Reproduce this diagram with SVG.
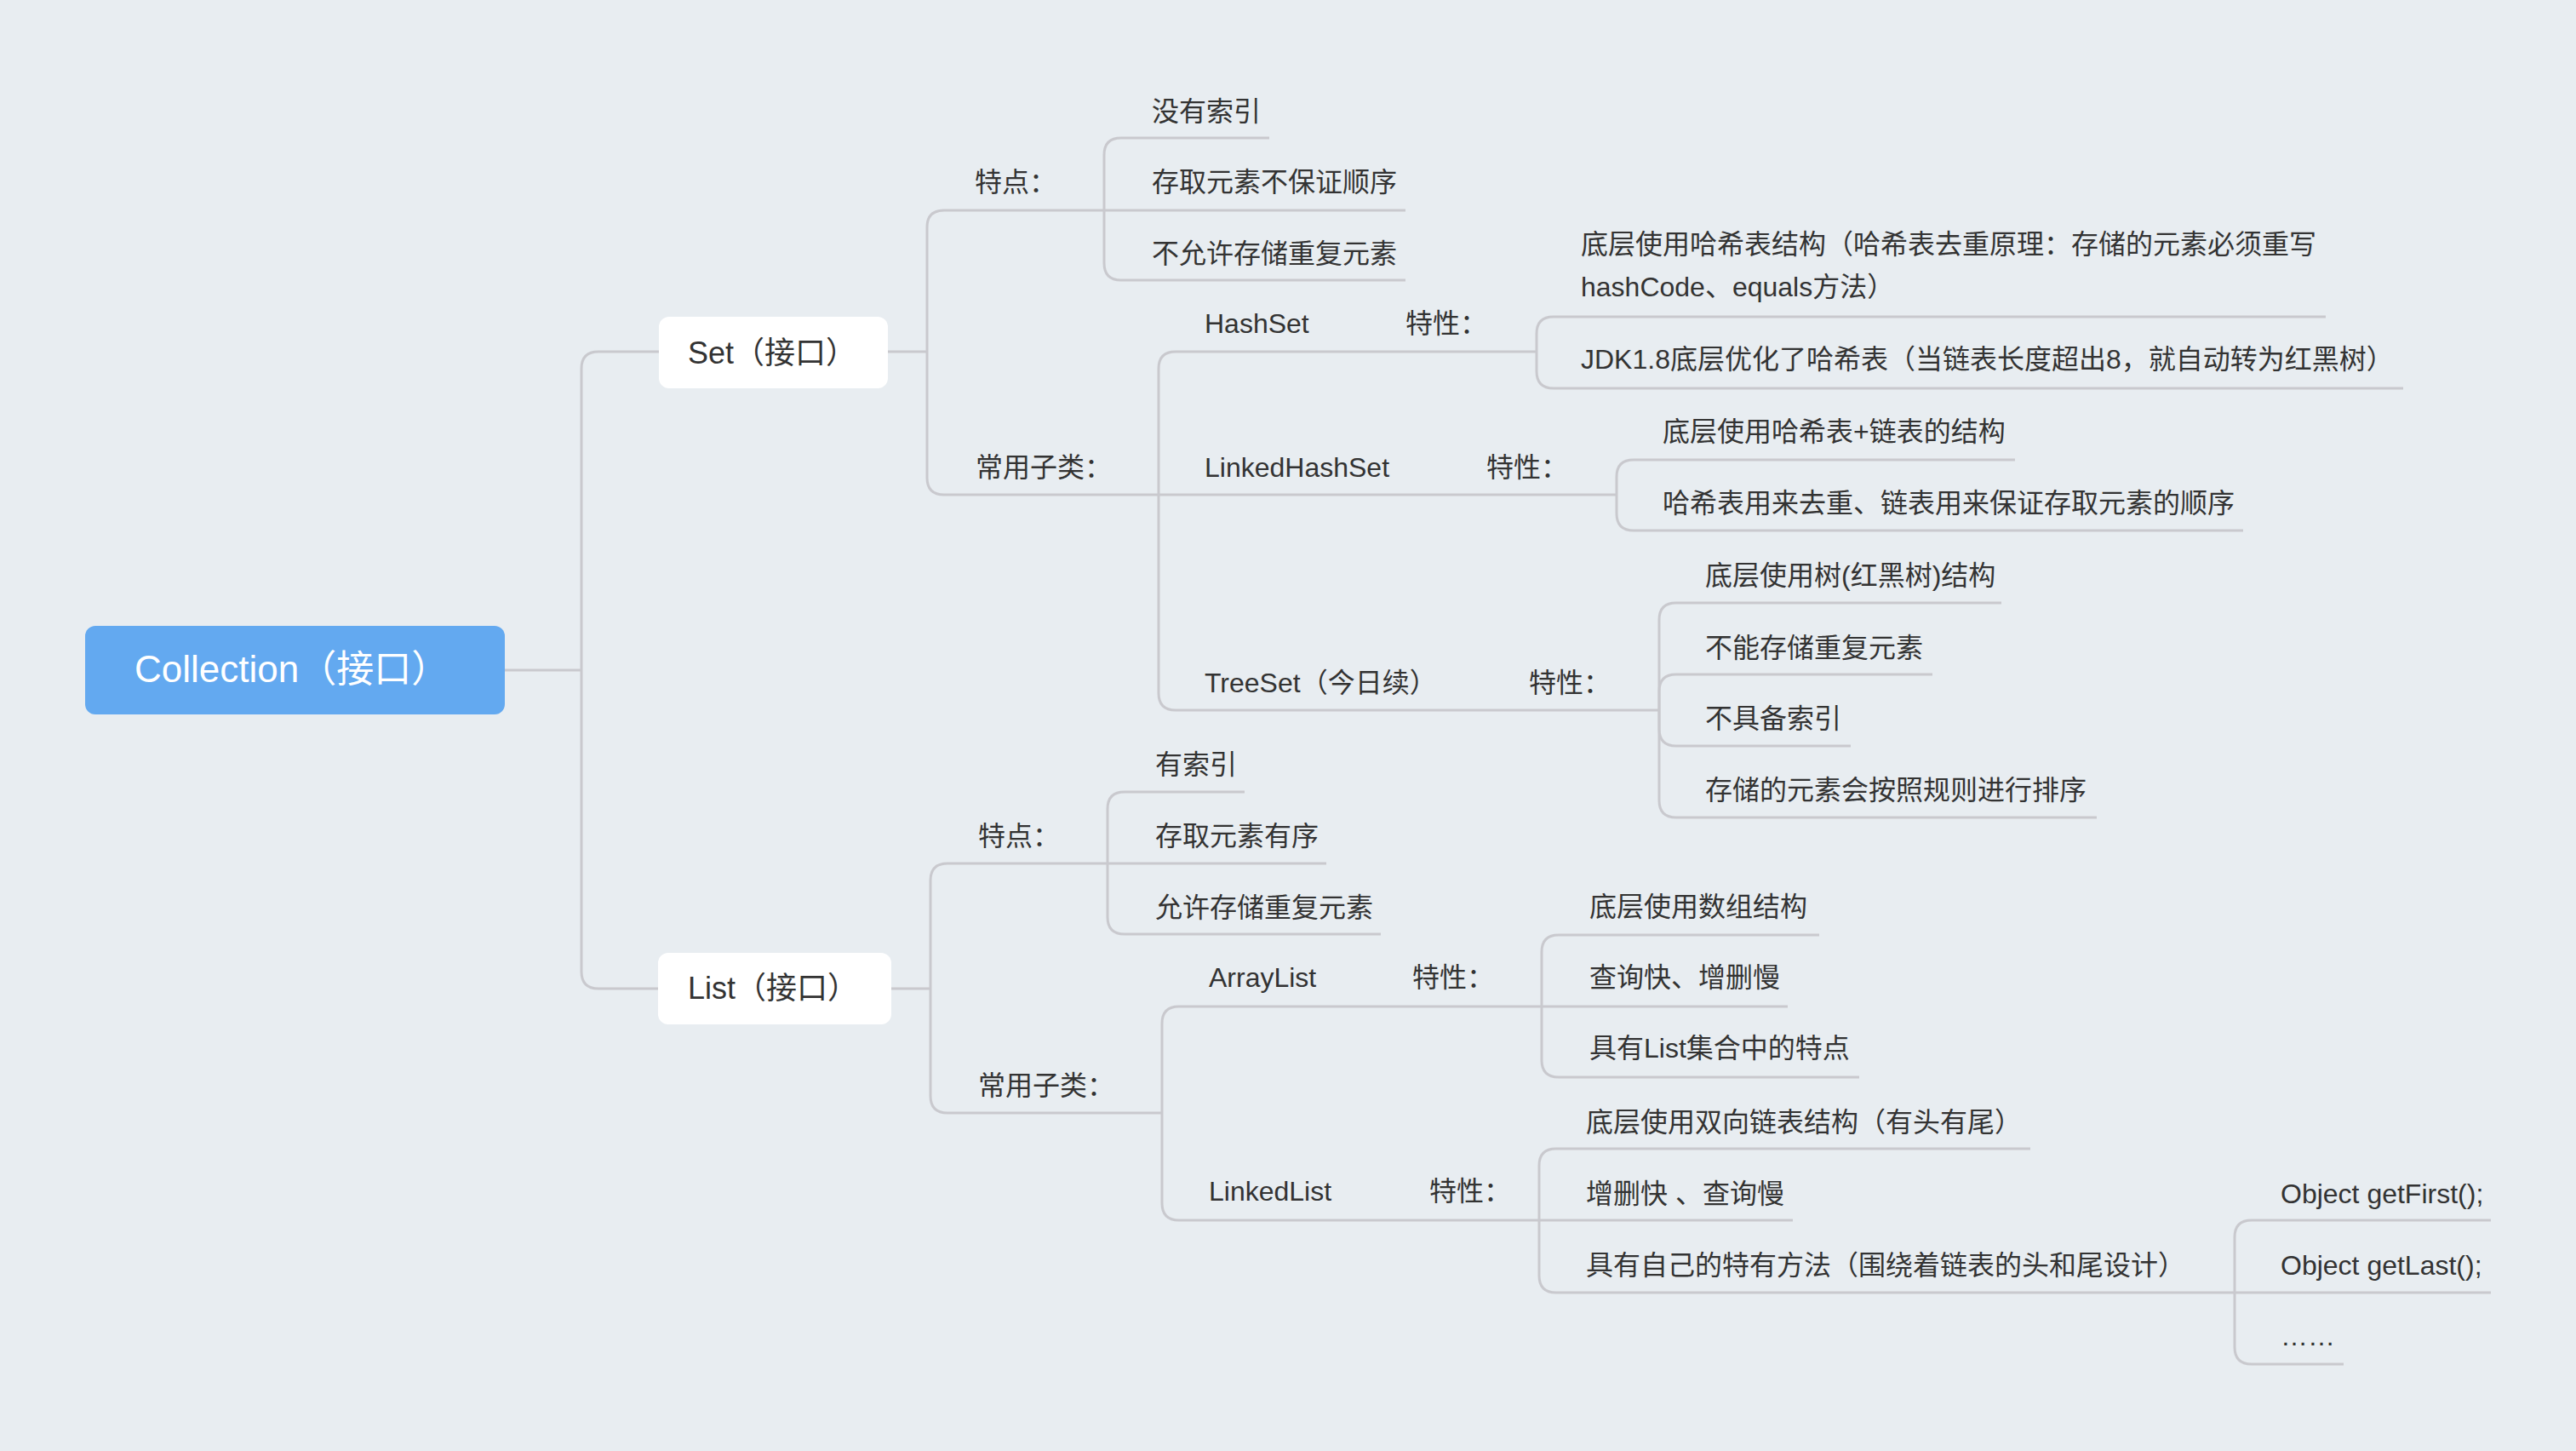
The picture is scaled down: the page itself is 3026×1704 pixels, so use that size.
<svg xmlns="http://www.w3.org/2000/svg" width="3026" height="1704" viewBox="0 0 3026 1704">
<style>
.t{font-family:"Liberation Sans","Noto Sans CJK SC",sans-serif;font-size:32px;fill:#333333}
.n{font-family:"Liberation Sans","Noto Sans CJK SC",sans-serif;font-size:36px;fill:#333333}
.r{font-family:"Liberation Sans","Noto Sans CJK SC",sans-serif;font-size:44px;fill:#ffffff}
.c{fill:none;stroke:#c9c9ce;stroke-width:3;stroke-linejoin:round}
</style>
<rect x="0" y="0" width="3026" height="1704" fill="#e8edf1"/>
<g id="connectors">
<path class="c" d="M593,787 H683"/>
<path class="c" d="M683,787 V433 Q683,413 703,413 H774"/>
<path class="c" d="M683,787 V1141 Q683,1161 703,1161 H773"/>
<path class="c" d="M1043,413 H1089"/>
<path class="c" d="M1089,413 V267 Q1089,247 1109,247 H1297"/>
<path class="c" d="M1089,413 V561 Q1089,581 1109,581 H1361"/>
<path class="c" d="M1297,247 V182 Q1297,162 1317,162 H1491"/>
<path class="c" d="M1297,247 H1651"/>
<path class="c" d="M1297,247 V309 Q1297,329 1317,329 H1651"/>
<path class="c" d="M1361,581 V433 Q1361,413 1381,413 H1805"/>
<path class="c" d="M1361,581 H1899"/>
<path class="c" d="M1361,581 V814 Q1361,834 1381,834 H1949"/>
<path class="c" d="M1805,413 V392 Q1805,372 1825,372 H2732"/>
<path class="c" d="M1805,413 V436 Q1805,456 1825,456 H2823"/>
<path class="c" d="M1899,581 V560 Q1899,540 1919,540 H2367"/>
<path class="c" d="M1899,581 V603 Q1899,623 1919,623 H2635"/>
<path class="c" d="M1949,834 V728 Q1949,708 1969,708 H2351"/>
<path class="c" d="M1949,834 V812 Q1949,792 1969,792 H2270"/>
<path class="c" d="M1949,834 V856 Q1949,876 1969,876 H2174"/>
<path class="c" d="M1949,834 V940 Q1949,960 1969,960 H2463"/>
<path class="c" d="M1047,1161 H1093"/>
<path class="c" d="M1093,1161 V1034 Q1093,1014 1113,1014 H1301"/>
<path class="c" d="M1093,1161 V1287 Q1093,1307 1113,1307 H1365"/>
<path class="c" d="M1301,1014 V950 Q1301,930 1321,930 H1462"/>
<path class="c" d="M1301,1014 H1558"/>
<path class="c" d="M1301,1014 V1077 Q1301,1097 1321,1097 H1622"/>
<path class="c" d="M1365,1307 V1202 Q1365,1182 1385,1182 H1811"/>
<path class="c" d="M1365,1307 V1413 Q1365,1433 1385,1433 H1808"/>
<path class="c" d="M1811,1182 V1118 Q1811,1098 1831,1098 H2137"/>
<path class="c" d="M1811,1182 H2100"/>
<path class="c" d="M1811,1182 V1245 Q1811,1265 1831,1265 H2184"/>
<path class="c" d="M1808,1433 V1369 Q1808,1349 1828,1349 H2385"/>
<path class="c" d="M1808,1433 H2106"/>
<path class="c" d="M1808,1433 V1498 Q1808,1518 1828,1518 H2625"/>
<path class="c" d="M2625,1518 V1453 Q2625,1433 2645,1433 H2926"/>
<path class="c" d="M2625,1518 H2926"/>
<path class="c" d="M2625,1518 V1582 Q2625,1602 2645,1602 H2753"/>
</g>
<g id="root"><rect x="100" y="735" width="493" height="104" rx="12" fill="#63a9f0"/><text class="r" x="158" y="801">Collection（接口）</text></g>
<g id="set"><rect x="774" y="372" width="269" height="84" rx="12" fill="#ffffff"/><text class="n" x="808" y="427">Set（接口）</text></g>
<g id="list"><rect x="773" y="1119" width="274" height="84" rx="12" fill="#ffffff"/><text class="n" x="808" y="1173">List（接口）</text></g>
<g id="set-feature"><text class="t" x="1145" y="225">特点：</text></g>
<g id="set-f1"><text class="t" x="1353" y="142">没有索引</text></g>
<g id="set-f2"><text class="t" x="1353" y="225">存取元素不保证顺序</text></g>
<g id="set-f3"><text class="t" x="1353" y="309">不允许存储重复元素</text></g>
<g id="set-sub"><text class="t" x="1146" y="560">常用子类：</text></g>
<g id="hashset"><text class="t" x="1415" y="391">HashSet</text></g>
<g id="hashset-prop"><text class="t" x="1651" y="391">特性：</text></g>
<g id="hashset-p1"><text class="t" x="1857" y="298">底层使用哈希表结构（哈希表去重原理：存储的元素必须重写</text><text class="t" x="1857" y="348">hashCode、equals方法）</text></g>
<g id="hashset-p2"><text class="t" x="1857" y="433">JDK1.8底层优化了哈希表（当链表长度超出8，就自动转为红黑树）</text></g>
<g id="linkedhashset"><text class="t" x="1415" y="560">LinkedHashSet</text></g>
<g id="linkedhashset-prop"><text class="t" x="1746" y="560">特性：</text></g>
<g id="lhs-p1"><text class="t" x="1953" y="518">底层使用哈希表+链表的结构</text></g>
<g id="lhs-p2"><text class="t" x="1953" y="602">哈希表用来去重、链表用来保证存取元素的顺序</text></g>
<g id="treeset"><text class="t" x="1415" y="813">TreeSet（今日续）</text></g>
<g id="treeset-prop"><text class="t" x="1796" y="813">特性：</text></g>
<g id="ts-p1"><text class="t" x="2003" y="687">底层使用树(红黑树)结构</text></g>
<g id="ts-p2"><text class="t" x="2003" y="772">不能存储重复元素</text></g>
<g id="ts-p3"><text class="t" x="2003" y="855">不具备索引</text></g>
<g id="ts-p4"><text class="t" x="2003" y="939">存储的元素会按照规则进行排序</text></g>
<g id="list-feature"><text class="t" x="1149" y="993">特点：</text></g>
<g id="list-f1"><text class="t" x="1357" y="909">有索引</text></g>
<g id="list-f2"><text class="t" x="1357" y="993">存取元素有序</text></g>
<g id="list-f3"><text class="t" x="1357" y="1077">允许存储重复元素</text></g>
<g id="list-sub"><text class="t" x="1149" y="1286">常用子类：</text></g>
<g id="arraylist"><text class="t" x="1420" y="1159">ArrayList</text></g>
<g id="arraylist-prop"><text class="t" x="1659" y="1159">特性：</text></g>
<g id="al-p1"><text class="t" x="1867" y="1076">底层使用数组结构</text></g>
<g id="al-p2"><text class="t" x="1867" y="1159">查询快、增删慢</text></g>
<g id="al-p3"><text class="t" x="1867" y="1242">具有List集合中的特点</text></g>
<g id="linkedlist"><text class="t" x="1420" y="1410">LinkedList</text></g>
<g id="linkedlist-prop"><text class="t" x="1679" y="1410">特性：</text></g>
<g id="ll-p1"><text class="t" x="1863" y="1329">底层使用双向链表结构（有头有尾）</text></g>
<g id="ll-p2"><text class="t" x="1863" y="1413">增删快 、查询慢</text></g>
<g id="ll-p3"><text class="t" x="1863" y="1497">具有自己的特有方法（围绕着链表的头和尾设计）</text></g>
<g id="ll-m1"><text class="t" x="2679" y="1413">Object getFirst();</text></g>
<g id="ll-m2"><text class="t" x="2679" y="1497">Object getLast();</text></g>
<g id="ll-m3"><text class="t" x="2679" y="1580">……</text></g>
</svg>
